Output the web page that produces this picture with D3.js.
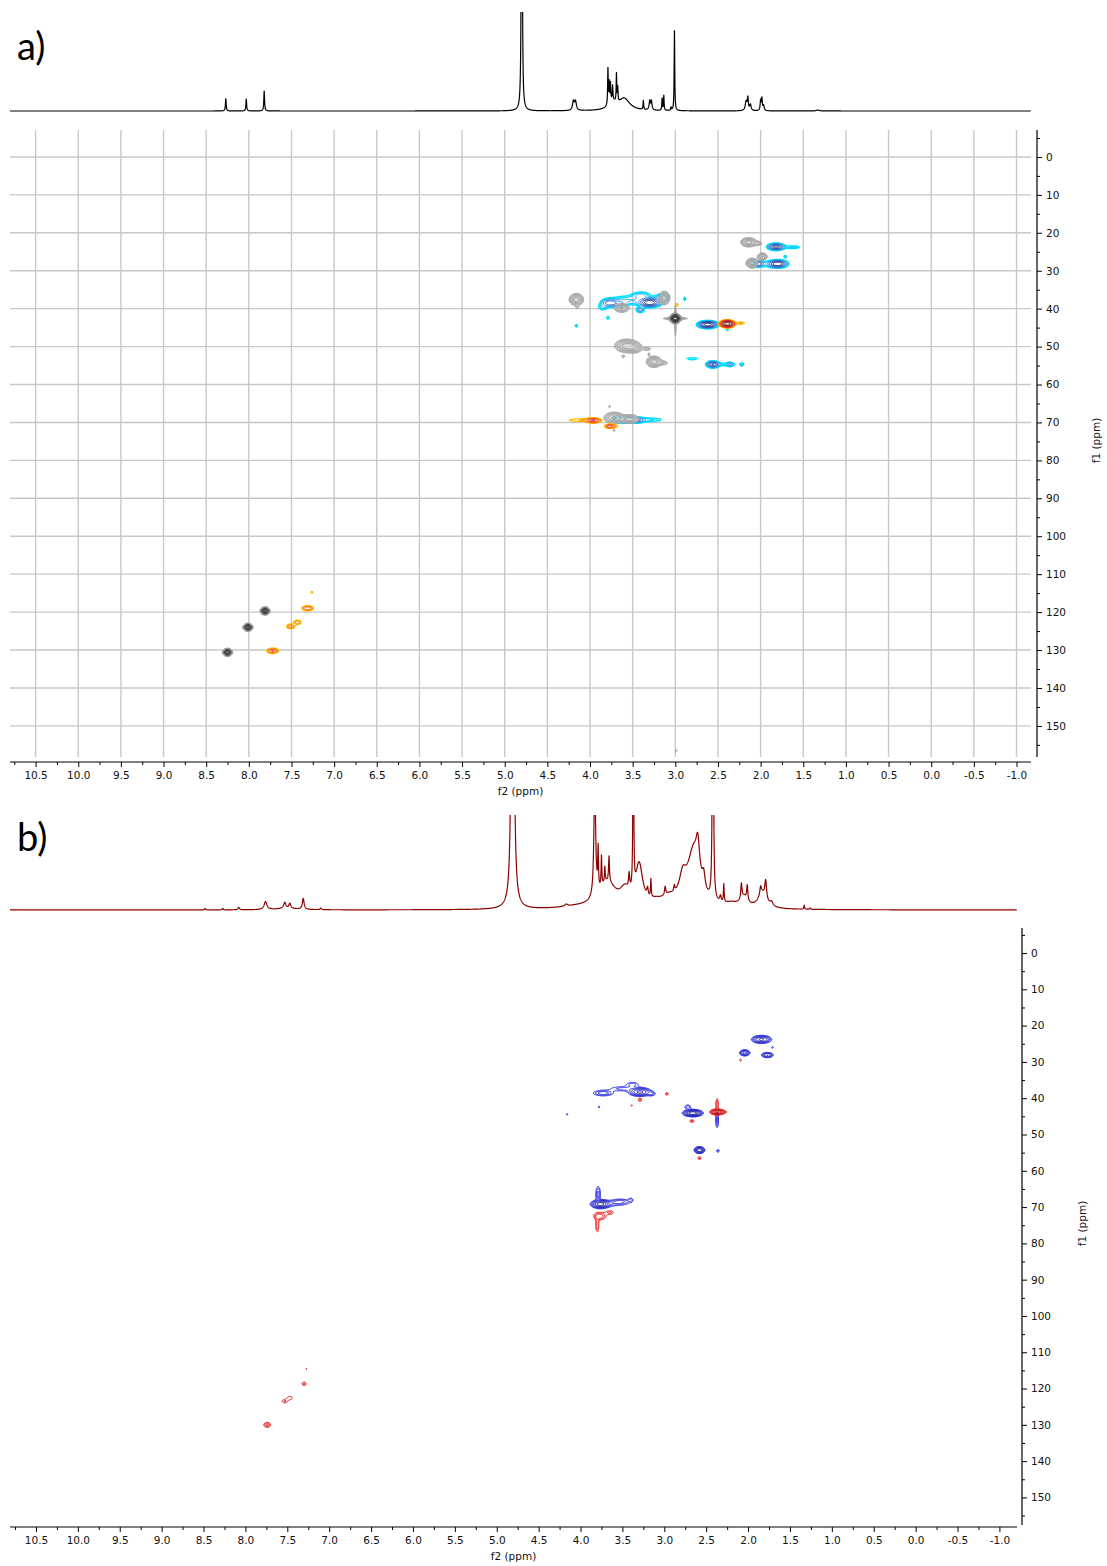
<!DOCTYPE html>
<html>
<head>
<meta charset="utf-8">
<script src="https://cdn.jsdelivr.net/npm/d3@7"></script>
<style>
  body { margin: 0; background: #fff; }
  svg { display: block; }
</style>
</head>
<body>
<svg id="fig" width="1107" height="1566"></svg>
<script>
// ---------- axis ticks ----------
const f2Ticks = [10.5, 10.0, 9.5, 9.0, 8.5, 8.0, 7.5, 7.0, 6.5, 6.0, 5.5, 5.0, 4.5, 4.0, 3.5, 3.0, 2.5, 2.0, 1.5, 1.0, 0.5, 0.0, -0.5, -1.0];
const f2Minor = [10.75, 10.25, 9.75, 9.25, 8.75, 8.25, 7.75, 7.25, 6.75, 6.25, 5.75, 5.25, 4.75, 4.25, 3.75, 3.25, 2.75, 2.25, 1.75, 1.25, 0.75, 0.25, -0.25, -0.75];
const f1Ticks = [0, 10, 20, 30, 40, 50, 60, 70, 80, 90, 100, 110, 120, 130, 140, 150];
const f1Minor = [-5, 5, 15, 25, 35, 45, 55, 65, 75, 85, 95, 105, 115, 125, 135, 145, 155];

// ---------- 1H traces: [ppm, height, half width (ppm)] ----------
const protonA = [
  [8.27, 12.5, 0.005], [8.03, 12, 0.005], [7.82, 20, 0.005],
  [4.80, 1200, 0.003],
  [4.195, 9, 0.012], [4.17, 9, 0.012],
  [3.79, 36, 0.004], [3.775, 20, 0.004], [3.76, 18, 0.004], [3.735, 14, 0.004],
  [3.69, 28, 0.004], [3.675, 14, 0.004], [3.74, 8, 0.05], [3.60, 12, 0.08],
  [3.375, 9, 0.004], [3.30, 9, 0.008], [3.28, 9, 0.008],
  [3.155, 12, 0.004], [3.135, 15, 0.004], [3.05, 3, 0.005], [3.01, 80, 0.004],
  [2.17, 9, 0.012], [2.15, 12, 0.007], [2.12, 6, 0.01],
  [2.00, 10, 0.006], [1.985, 12, 0.006], [1.965, 5, 0.008],
  [1.33, 1, 0.02]
];
const protonB = [
  [8.48, 1.5, 0.006], [8.27, 1.5, 0.006], [8.08, 2.5, 0.01],
  [7.76, 8, 0.02], [7.53, 6, 0.015], [7.47, 5, 0.012], [7.31, 11, 0.012], [7.10, 1.5, 0.01], [7.50, 1.5, 0.15],
  [4.81, 1500, 0.0077],
  [4.17, 2, 0.02], [4.05, 2, 0.25],
  [3.83, 120, 0.012], [3.79, 40, 0.005], [3.75, 30, 0.005], [3.71, 15, 0.005], [3.66, 25, 0.006],
  [3.68, 25, 0.12], [3.47, 14, 0.07],
  [3.42, 15, 0.008], [3.37, 300, 0.004], [3.30, 40, 0.05],
  [3.20, 8, 0.01], [3.16, 18, 0.005], [3.10, 4, 0.08],
  [2.99, 8, 0.008], [2.95, 8, 0.1], [2.88, 6, 0.008],
  [2.78, 22, 0.05], [2.65, 55, 0.09], [2.60, 30, 0.025], [2.53, 15, 0.02],
  [2.42, 800, 0.004],
  [2.33, 6, 0.01], [2.29, 18, 0.005], [2.20, 4, 0.1],
  [2.05, 10, 0.05], [2.08, 15, 0.008], [2.01, 15, 0.008],
  [1.83, 15, 0.06], [1.85, 8, 0.01], [1.79, 18, 0.012], [1.72, 4, 0.02],
  [1.33, 4, 0.005], [1.26, 1.5, 0.005]
];

// ---------- HSQC cross peaks: [f2 ppm, f1 ppm, f2 spread, f1 spread, intensity] ----------
const hsqcAGrey = [
  [2.14, 22.5, 0.05, 0.65, 6], [2.03, 22.8, 0.035, 0.35, 2.2],
  [1.98, 26.3, 0.032, 0.55, 5],
  [2.10, 28.0, 0.038, 0.7, 6],
  [4.16, 37.6, 0.045, 0.85, 6], [4.15, 39.6, 0.012, 0.3, 1.8],
  [3.63, 39.8, 0.05, 0.65, 5],
  [3.13, 37.2, 0.035, 0.95, 6],
  [3.57, 49.8, 0.075, 0.95, 6], [3.47, 50.4, 0.05, 0.75, 3], [3.33, 50.6, 0.03, 0.3, 2.2], [3.61, 52.6, 0.015, 0.3, 1.8],
  [3.25, 54.0, 0.048, 0.8, 6], [3.14, 54.3, 0.04, 0.35, 2], [3.31, 52.0, 0.012, 0.3, 1.6],
  [3.00, 42.6, 0.025, 0.5, 60], [3.00, 42.6, 0.09, 0.22, 3.5], [3.00, 43.0, 0.008, 3.5, 2.2],
  [3.72, 68.8, 0.065, 0.85, 5], [3.53, 69.1, 0.065, 0.7, 4], [3.77, 65.8, 0.012, 0.3, 1.6], [3.72, 72.1, 0.012, 0.3, 1.6],
  [7.81, 119.7, 0.022, 0.4, 40], [8.01, 124.0, 0.022, 0.4, 40], [8.25, 130.6, 0.022, 0.4, 40],
  [2.99, 156.5, 0.012, 0.3, 1.5]
];
const hsqcACyan = [
  [1.82, 23.7, 0.05, 0.45, 12], [1.62, 23.8, 0.07, 0.32, 1.8],
  [2.03, 28.2, 0.038, 0.45, 6], [1.80, 28.2, 0.055, 0.5, 14], [1.92, 28.2, 0.13, 0.5, 1.7], [1.71, 26.3, 0.012, 0.28, 2],
  [3.77, 38.5, 0.055, 0.6, 6], [3.30, 38.4, 0.065, 0.6, 14], [3.41, 40.3, 0.028, 0.45, 4],
  [3.55, 37.8, 0.15, 0.9, 2.2], [3.15, 37.0, 0.06, 0.7, 2.5], [3.65, 38.8, 0.05, 0.55, 2.5],
  [3.40, 36.4, 0.07, 0.6, 2.2], [3.85, 39.6, 0.04, 0.6, 1.8],
  [3.79, 42.4, 0.015, 0.35, 1.6], [4.16, 44.5, 0.013, 0.3, 1.6], [2.89, 37.4, 0.013, 0.4, 1.6],
  [2.62, 44.2, 0.055, 0.45, 20], [2.39, 45.5, 0.012, 0.25, 1.5],
  [2.56, 54.7, 0.038, 0.45, 10], [2.36, 54.7, 0.022, 0.33, 3], [2.22, 54.7, 0.015, 0.3, 1.8],
  [2.42, 54.7, 0.12, 0.38, 1.4], [2.80, 53.2, 0.07, 0.3, 1.4],
  [3.40, 69.3, 0.2, 0.45, 2], [3.60, 69.2, 0.07, 0.5, 6], [3.45, 69.4, 0.045, 0.4, 4]
];
const hsqcAWarm = [
  [2.39, 44.0, 0.042, 0.45, 20], [2.23, 43.8, 0.04, 0.28, 1.7],
  [4.08, 69.4, 0.17, 0.38, 1.6], [3.96, 69.5, 0.045, 0.4, 4], [3.77, 71.0, 0.03, 0.3, 3], [3.74, 71.0, 0.06, 0.4, 1.8],
  [2.98, 39.0, 0.012, 0.35, 1.6],
  [7.31, 119.0, 0.045, 0.45, 3.2], [7.26, 114.8, 0.012, 0.3, 1.5],
  [7.51, 123.8, 0.035, 0.45, 2.6], [7.43, 122.7, 0.035, 0.45, 2.2],
  [7.72, 130.2, 0.045, 0.45, 3.5]
];
const hsqcBPos = [
  [1.84, 23.8, 0.06, 0.55, 8],
  [2.04, 27.5, 0.033, 0.45, 6], [1.77, 28.1, 0.04, 0.4, 5], [1.71, 26.0, 0.012, 0.25, 1.6],
  [3.73, 38.6, 0.08, 0.5, 3], [3.29, 38.3, 0.07, 0.6, 8], [3.50, 37.4, 0.12, 0.5, 1.8], [3.15, 38.8, 0.03, 0.4, 2],
  [3.38, 36.2, 0.06, 0.5, 1.8],
  [3.78, 42.4, 0.012, 0.22, 1.5], [4.16, 44.4, 0.012, 0.22, 1.5],
  [2.66, 44.1, 0.055, 0.45, 14], [2.72, 42.4, 0.03, 0.45, 2],
  [2.37, 46.0, 0.012, 1.5, 2.8],
  [2.58, 54.3, 0.03, 0.45, 10], [2.36, 54.5, 0.015, 0.33, 1.8],
  [3.76, 69.2, 0.055, 0.55, 12], [3.60, 69.0, 0.12, 0.6, 1.6], [3.52, 68.4, 0.07, 0.45, 2],
  [3.79, 66.5, 0.02, 1.6, 2.6], [3.40, 68.0, 0.02, 0.4, 1.8]
];
const hsqcBNeg = [
  [2.09, 29.5, 0.012, 0.3, 1.6],
  [3.29, 40.4, 0.015, 0.45, 2], [2.97, 38.8, 0.015, 0.35, 1.8], [3.39, 42.0, 0.012, 0.25, 1.5],
  [2.37, 43.8, 0.04, 0.38, 10], [2.33, 43.8, 0.06, 0.33, 2], [2.37, 41.8, 0.01, 1.3, 2.5],
  [2.67, 46.3, 0.025, 0.3, 1.8],
  [2.58, 56.5, 0.02, 0.3, 1.8],
  [3.77, 72.5, 0.05, 0.7, 3], [3.80, 75.0, 0.014, 1.5, 2.2], [3.65, 71.5, 0.04, 0.45, 1.7],
  [7.27, 114.6, 0.01, 0.22, 1.3], [7.30, 118.7, 0.022, 0.45, 1.8],
  [7.53, 123.5, 0.032, 0.45, 1.6], [7.47, 122.6, 0.032, 0.45, 1.5], [7.74, 130.0, 0.03, 0.5, 2.5]
];

// contour levels (geometric)
const contourLevels = [1, 1.5, 2.2, 3.2, 4.7, 7, 10, 15, 22, 32, 47];

// ---------- styles ----------
const FONT = "'DejaVu Sans', Verdana, sans-serif";
const greyShades = ['#9c9c9c', '#a4a4a4', '#a0a0a0', '#989898', '#8c8c8c', '#6e6e6e', '#4a4a4a', '#333', '#262626', '#1a1a1a', '#111'];
const cyanShades = ['#00e4ff', '#10d4fa', '#2aa4e4', '#2a80d4', '#2058c0', '#1a40a0', '#142c80', '#0e1e60', '#0a1448', '#0a1448', '#0a1448'];
const warmShades = ['#ffc000', '#ff9800', '#ff5a14', '#e42a14', '#c41414', '#a01010', '#801010', '#600c0c', '#600c0c', '#600c0c', '#600c0c'];
const blueShades = ['#2a2ae6', '#2a2ae6', '#2424d0', '#2424d0', '#1e1eb8', '#1a1aa0', '#161690', '#141480', '#141480', '#141480', '#141480'];
const redShades = ['#ee1c1c', '#ee1c1c', '#e01616', '#d41212', '#c41010', '#b00e0e', '#a00c0c', '#a00c0c', '#a00c0c', '#a00c0c', '#a00c0c'];

const svg = d3.select('#fig');

function lorentzSum(peaks, ppm) {
  let s = 0;
  for (const [c, h, w] of peaks) {
    const d = (ppm - c) / w;
    s += h / (1 + d * d);
  }
  return s;
}

function drawSpectrum(xs, cfg) {
  const ys = d3.scaleLinear().domain([0, cfg.max]).range([cfg.base, cfg.top]);
  const [xa, xb] = xs.range();
  const samples = [];
  for (let px = xa; px <= xb; px += 0.2) samples.push(xs.invert(px));
  for (const p of cfg.data) if (p[0] <= xs.domain()[0] && p[0] >= xs.domain()[1]) samples.push(p[0]);
  samples.sort((a, b) => b - a);
  const id = 'clip' + cfg.key;
  svg.append('clipPath').attr('id', id)
    .append('rect').attr('x', xa - 1).attr('y', cfg.top).attr('width', xb - xa + 2).attr('height', cfg.base - cfg.top + 5);
  svg.append('path')
    .datum(samples)
    .attr('clip-path', `url(#${id})`)
    .attr('fill', 'none')
    .attr('stroke', cfg.color)
    .attr('stroke-width', 1.2)
    .attr('stroke-linejoin', 'round')
    .attr('d', d3.line().x(d => xs(d)).y(d => ys(lorentzSum(cfg.data, d))));
}

function drawContours(layer, xs, ys, box) {
  const x0 = box.x0, y0 = box.y0;
  const nx = Math.round(box.x1 - box.x0), ny = Math.round(box.y1 - box.y0);
  const grid = new Float64Array(nx * ny);
  const colPpm = Float64Array.from({ length: nx }, (_, i) => xs.invert(x0 + i + 0.5));
  const rowF1 = Float64Array.from({ length: ny }, (_, j) => ys.invert(y0 + j + 0.5));
  for (const [c2, c1, s2, s1, a] of layer.peaks) {
    const px = xs(c2) - x0, py = ys(c1) - y0;
    const rx = Math.abs(xs(c2 + s2) - xs(c2)) * 4.5 + 2;
    const ry = Math.abs(ys(c1 + s1) - ys(c1)) * 4.5 + 2;
    const i0 = Math.max(0, Math.floor(px - rx)), i1 = Math.min(nx - 1, Math.ceil(px + rx));
    const j0 = Math.max(0, Math.floor(py - ry)), j1 = Math.min(ny - 1, Math.ceil(py + ry));
    for (let j = j0; j <= j1; j++) {
      const dv = (rowF1[j] - c1) / s1, ev = dv * dv;
      for (let i = i0; i <= i1; i++) {
        const du = (colPpm[i] - c2) / s2;
        grid[j * nx + i] += a * Math.exp(-0.5 * (du * du + ev));
      }
    }
  }
  const contours = d3.contours().size([nx, ny]).thresholds(contourLevels)(grid);
  const path = d3.geoPath(d3.geoIdentity().translate([x0, y0]));
  svg.append('g').selectAll('path')
    .data(contours)
    .join('path')
    .attr('d', path)
    .attr('fill', (d, i) => (i === 0 && layer.fill) ? layer.fill : 'none')
    .attr('fill-opacity', layer.fillOpacity || 1)
    .attr('stroke', (d, i) => layer.colors[Math.min(i, layer.colors.length - 1)])
    .attr('stroke-width', (d, i) => i < 2 ? (layer.outerWidth || 1) : 1);
}

function styleAxis(g) {
  g.attr('font-family', FONT).attr('font-size', 10.5);
  g.select('.domain').remove();
  g.selectAll('.tick line').attr('stroke', '#000');
  g.selectAll('.tick text').attr('fill', '#111');
}

function drawPanel(p) {
  const xs = d3.scaleLinear().domain(p.xDomain).range(p.xRange);
  const ys = d3.scaleLinear().domain(p.yDomain).range(p.yRange);
  const [xl, xr] = p.xRange, [yt, yb] = p.yRange;

  // panel letter
  svg.append('text').attr('x', 17).attr('y', p.labelY)
    .attr('font-family', "Lato, 'Open Sans', sans-serif").attr('font-size', 38)
    .attr('fill', '#000').text(p.label);

  // grid
  if (p.grid) {
    svg.append('g').selectAll('line').data(f2Ticks).join('line')
      .attr('x1', d => xs(d)).attr('x2', d => xs(d)).attr('y1', yt).attr('y2', yb)
      .attr('stroke', '#c8c8c8').attr('stroke-width', 1.4);
    svg.append('g').selectAll('line').data(f1Ticks).join('line')
      .attr('x1', xl).attr('x2', xr).attr('y1', d => ys(d)).attr('y2', d => ys(d))
      .attr('stroke', '#c8c8c8').attr('stroke-width', 1.4);
  }

  // cross peaks
  for (const layer of p.layers) drawContours(layer, xs, ys, { x0: xl, x1: xr, y0: yt, y1: yb });

  // f2 axis
  svg.append('line').attr('x1', xl).attr('x2', xr).attr('y1', p.axisY).attr('y2', p.axisY)
    .attr('stroke', '#000').attr('stroke-width', 1.2);
  svg.append('g').attr('transform', `translate(0,${p.axisY})`)
    .call(d3.axisBottom(xs).tickValues(f2Ticks).tickSize(5).tickPadding(5).tickFormat(d => d.toFixed(1)))
    .call(styleAxis);
  svg.append('g').attr('transform', `translate(0,${p.axisY})`)
    .call(d3.axisBottom(xs).tickValues(f2Minor).tickSize(3).tickFormat(''))
    .call(styleAxis);
  svg.append('text').attr('x', (xl + xr) / 2).attr('y', p.axisY + 33)
    .attr('text-anchor', 'middle').attr('font-family', FONT).attr('font-size', 10.5)
    .attr('fill', '#111').text('f2 (ppm)');

  // f1 axis
  svg.append('line').attr('x1', p.axisX).attr('x2', p.axisX).attr('y1', yt).attr('y2', yb)
    .attr('stroke', '#000').attr('stroke-width', 1.2);
  svg.append('g').attr('transform', `translate(${p.axisX},0)`)
    .call(d3.axisRight(ys).tickValues(f1Ticks).tickSize(5).tickPadding(4).tickFormat(d3.format('d')))
    .call(styleAxis);
  svg.append('g').attr('transform', `translate(${p.axisX},0)`)
    .call(d3.axisRight(ys).tickValues(f1Minor).tickSize(3).tickFormat(''))
    .call(styleAxis);
  svg.append('text')
    .attr('transform', `translate(${p.f1LabelX},${(yt + yb) / 2 - 3}) rotate(-90)`)
    .attr('text-anchor', 'middle').attr('font-family', FONT).attr('font-size', 10.5)
    .attr('fill', '#111').text('f1 (ppm)');

  // 1H projection
  drawSpectrum(xs, p.spec);
}

drawPanel({
  label: 'a)', labelY: 60,
  xDomain: [10.80, -1.17], xRange: [10, 1031],
  yDomain: [-7.1, 158.2], yRange: [130, 757],
  axisY: 762, axisX: 1037, f1LabelX: 1100,
  grid: true,
  layers: [
    { peaks: hsqcACyan, colors: cyanShades, outerWidth: 1.5 },
    { peaks: hsqcAGrey, colors: greyShades, fill: '#cfcfcf', fillOpacity: 0.75 },
    { peaks: hsqcAWarm, colors: warmShades, outerWidth: 1.3 }
  ],
  spec: { key: 'A', data: protonA, base: 111, top: 12, max: 99, color: '#000' }
});

drawPanel({
  label: 'b)', labelY: 851,
  xDomain: [10.81, -1.21], xRange: [10, 1017],
  yDomain: [-6.9, 157.6], yRange: [928, 1525],
  axisY: 1527, axisX: 1022, f1LabelX: 1086,
  grid: false,
  layers: [
    { peaks: hsqcBPos, colors: blueShades },
    { peaks: hsqcBNeg, colors: redShades }
  ],
  spec: { key: 'B', data: protonB, base: 910, top: 815, max: 95, color: '#8b0000' }
});
</script>
</body>
</html>
